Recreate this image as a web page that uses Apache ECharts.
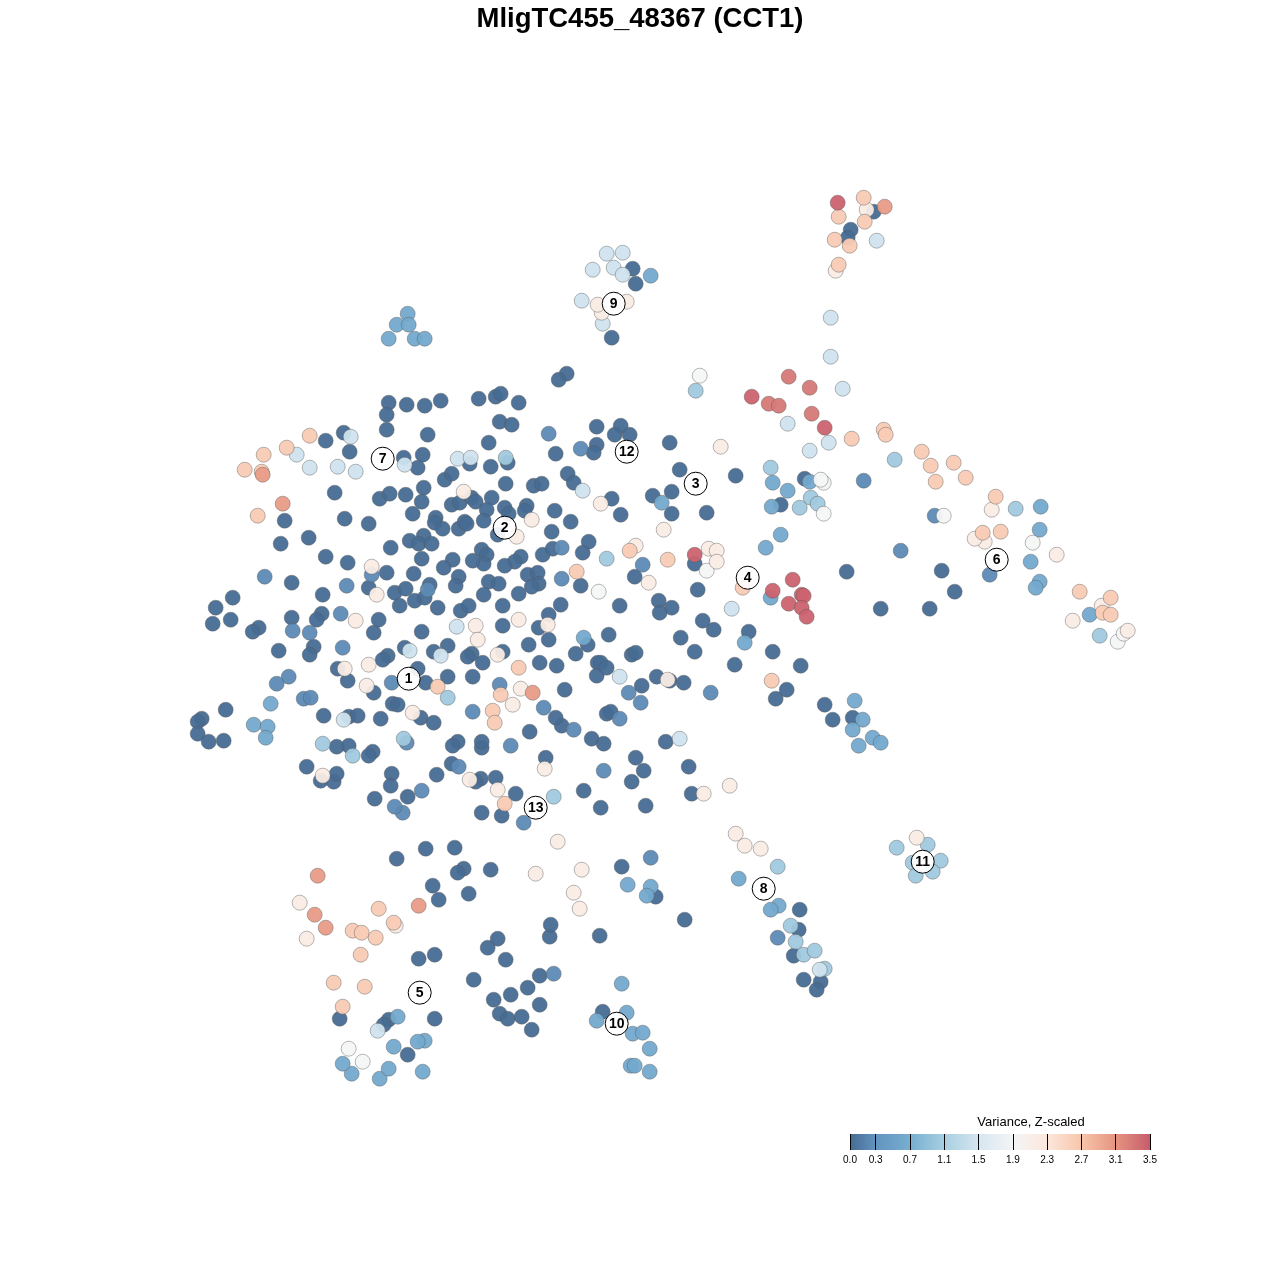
<!DOCTYPE html>
<html><head><meta charset="utf-8">
<style>html,body{margin:0;padding:0;background:#fff}#c{width:1280px;height:1280px}</style>
<script src="https://cdn.jsdelivr.net/npm/echarts@6/dist/echarts.min.js"></script></head>
<body><div id="c"></div>
<script>
const cellsV01 = [[873,211],[850,229],[847,237],[635,283],[632,268],[611,337],[566,373],[558,379],[478,398],[495,396],[500,393],[518,402],[440,400],[424,405],[406,404],[388,402],[386,414],[386,429],[427,434],[499,421],[511,424],[488,442],[620,425],[629,434],[614,434],[596,426],[596,444],[593,452],[669,442],[325,440],[343,432],[349,451],[403,457],[422,454],[417,467],[469,463],[490,466],[507,462],[555,453],[444,479],[451,473],[505,483],[533,485],[541,483],[567,473],[573,482],[379,498],[389,493],[405,494],[423,487],[421,501],[451,504],[459,502],[471,497],[475,501],[491,497],[504,507],[508,513],[486,509],[483,520],[526,505],[524,510],[554,510],[570,521],[412,513],[344,518],[368,523],[435,517],[434,522],[442,528],[458,528],[464,521],[466,523],[497,534],[423,535],[409,540],[418,543],[431,543],[390,547],[551,531],[588,541],[582,552],[542,554],[552,548],[520,556],[514,561],[504,565],[481,549],[486,554],[483,563],[472,560],[452,559],[443,567],[421,558],[347,562],[386,572],[413,573],[458,576],[455,585],[488,581],[498,583],[483,594],[518,593],[527,574],[537,572],[538,583],[531,586],[580,585],[560,604],[548,614],[538,627],[548,639],[528,644],[575,653],[587,644],[539,662],[556,665],[597,662],[596,675],[564,689],[368,587],[394,592],[405,588],[414,600],[424,597],[429,584],[399,605],[437,607],[460,610],[468,605],[502,605],[502,625],[378,619],[373,632],[421,631],[404,647],[447,645],[433,651],[387,655],[382,659],[471,653],[467,656],[482,662],[502,651],[417,668],[347,680],[373,692],[425,682],[447,676],[472,676],[334,492],[284,520],[308,537],[280,543],[325,556],[232,597],[215,607],[212,623],[230,619],[258,627],[252,631],[291,582],[291,617],[322,594],[321,613],[316,619],[278,650],[313,646],[309,654],[337,668],[225,709],[201,718],[197,721],[197,733],[208,741],[223,740],[323,715],[348,716],[357,715],[380,718],[392,703],[397,704],[420,717],[433,722],[348,745],[336,746],[372,751],[368,755],[306,766],[320,780],[333,781],[336,773],[391,773],[390,785],[374,798],[407,796],[436,774],[451,763],[457,741],[452,745],[481,747],[481,741],[480,778],[475,781],[495,777],[515,793],[481,812],[501,815],[529,731],[545,757],[583,790],[600,807],[645,805],[631,781],[643,770],[635,757],[591,738],[603,743],[665,741],[688,766],[691,793],[561,725],[555,717],[600,662],[606,667],[631,654],[635,652],[641,685],[656,676],[669,680],[683,682],[734,664],[694,651],[680,637],[713,629],[702,620],[748,631],[658,600],[671,607],[659,612],[619,605],[634,576],[697,589],[694,563],[706,512],[671,513],[652,495],[671,491],[679,469],[735,475],[611,498],[620,514],[775,698],[786,689],[800,665],[772,651],[824,704],[832,719],[852,717],[804,478],[780,504],[846,571],[880,608],[929,608],[941,570],[954,591],[608,634],[606,713],[610,711],[396,858],[425,848],[454,847],[463,868],[457,872],[490,869],[432,885],[438,899],[468,893],[621,866],[655,896],[549,936],[550,924],[599,935],[497,938],[487,947],[505,959],[434,954],[418,958],[473,979],[527,987],[539,975],[539,1004],[510,994],[493,999],[499,1013],[507,1018],[521,1016],[531,1029],[434,1018],[339,1018],[388,1019],[383,1024],[407,1054],[602,1011],[684,919],[799,909],[798,929],[793,955],[803,979],[820,981],[816,989]];
const cellsV03 = [[264,576],[346,585],[292,630],[309,632],[340,613],[288,676],[276,683],[303,698],[310,697],[342,647],[371,574],[427,589],[561,578],[642,564],[561,547],[580,448],[548,433],[863,480],[900,550],[989,574],[710,692],[640,702],[628,692],[619,718],[543,707],[573,729],[510,745],[458,766],[603,770],[421,790],[402,812],[394,806],[523,822],[472,711],[499,684],[391,682],[650,857],[553,973],[777,937],[934,515],[406,742]];
const cellsV07 = [[407,313],[396,324],[408,324],[388,338],[414,338],[424,338],[650,275],[772,482],[787,490],[809,481],[771,506],[780,534],[765,547],[1040,506],[1039,529],[1030,561],[1039,581],[1035,587],[1089,614],[583,637],[270,703],[253,724],[267,726],[265,737],[738,878],[778,905],[770,909],[627,884],[650,886],[646,895],[621,983],[626,1012],[596,1020],[632,1033],[642,1032],[649,1048],[630,1065],[634,1065],[649,1071],[854,700],[862,719],[852,729],[872,737],[880,742],[858,745],[770,597],[744,642],[661,502],[397,1016],[424,1040],[417,1041],[422,1071],[379,1078],[388,1068],[351,1073],[342,1063],[393,1046]];
const cellsV11 = [[695,390],[770,467],[799,507],[810,497],[817,503],[894,459],[1015,508],[1099,635],[606,558],[505,457],[553,796],[403,738],[447,697],[352,755],[322,743],[777,866],[790,925],[795,941],[803,954],[814,950],[824,968],[896,847],[912,862],[927,844],[940,860],[932,871],[915,875]];
const cellsV15 = [[830,317],[830,356],[842,388],[787,423],[828,442],[809,450],[296,454],[309,467],[337,466],[350,436],[355,471],[404,464],[457,458],[470,457],[606,253],[622,252],[592,269],[613,267],[622,274],[581,300],[602,323],[876,240],[731,608],[409,650],[440,655],[456,626],[619,676],[343,719],[679,738],[582,490],[819,969],[377,1030]];
const cellsV19 = [[823,482],[820,479],[823,513],[943,515],[1032,542],[1117,641],[1123,633],[706,570],[348,1048],[362,1061],[699,375],[598,591]];
const cellsV23 = [[720,446],[663,529],[708,548],[716,550],[716,561],[635,545],[1056,554],[984,541],[991,509],[1072,620],[1101,605],[1127,630],[463,491],[531,519],[516,536],[600,503],[518,619],[547,624],[497,654],[368,664],[344,668],[366,685],[412,712],[475,625],[477,639],[512,704],[520,688],[667,679],[703,793],[729,785],[544,768],[469,779],[322,775],[497,789],[535,873],[581,869],[557,841],[573,892],[579,908],[735,833],[744,845],[760,848],[916,837],[306,938],[299,902],[395,925],[376,594],[371,566],[355,620],[835,270],[866,209],[648,582],[626,301],[601,312],[597,304],[974,538]];
const cellsV27 = [[244,469],[263,454],[261,471],[286,447],[309,435],[257,515],[883,429],[885,434],[851,438],[921,451],[930,465],[953,462],[935,481],[965,477],[995,496],[982,532],[1000,531],[1079,591],[1110,597],[1102,612],[1110,614],[863,197],[838,216],[864,221],[849,245],[834,239],[838,264],[576,571],[629,550],[667,559],[742,587],[518,667],[500,694],[437,686],[492,710],[494,722],[504,803],[771,680],[378,908],[352,930],[361,932],[375,937],[360,954],[393,922],[333,982],[364,986],[342,1006]];
const cellsV31 = [[282,503],[262,474],[532,692],[317,875],[314,914],[325,927],[418,905],[884,206]];
const cellsV33 = [[788,376],[809,387],[768,403],[778,405],[811,413]];
const cellsV35 = [[837,202],[751,396],[824,427],[694,554],[772,590],[792,579],[788,603],[801,594],[803,595],[801,607],[806,616]];
const clusterIds = ["1","2","3","4","5","6","7","8","9","10","11","12","13"];
const clusterX = [408,504,695,747,419,996,382,763,613,616,922,626,535];
const clusterY = [678,527,483,577,992,559,458,888,303,1023,861,451,807];
const legendTicks = [0,0.3,0.7,1.1,1.5,1.9,2.3,2.7,3.1,3.5];
const legendColors = ["#466a92","#6394c0","#77aed0","#a8cfe1","#d6e6f0","#f4f5f6","#fce7dc","#f8c5ab","#e59480","#c75c6c"];
const groupValues = [0.02,0.3,0.7,1.1,1.5,1.95,2.2,2.65,3.05,3.3,3.45];
const groups = [cellsV01,cellsV03,cellsV07,cellsV11,cellsV15,cellsV19,cellsV23,cellsV27,cellsV31,cellsV33,cellsV35];
const points = [];
groups.forEach((list, g) => list.forEach(p => points.push([p[0], p[1], groupValues[g]])));

const chart = echarts.init(document.getElementById('c'), null, {renderer:'canvas'});
const FONT = '"Liberation Sans", Arial, sans-serif';
chart.setOption({
  animation:false,
  backgroundColor:'#fff',
  title:[
    {text:'MligTC455_48367 (CCT1)',left:640,top:5,textAlign:'center',padding:0,textStyle:{fontFamily:FONT,fontWeight:'bold',fontSize:27.5,color:'#000'}},
    {text:'Variance, Z-scaled',left:1031,top:1116,textAlign:'center',padding:0,textStyle:{fontFamily:FONT,fontWeight:'normal',fontSize:13,color:'#000'}}
  ],
  grid:[
    {left:0,right:0,top:0,bottom:0,show:false},
    {left:850,top:1134,width:300,height:16,show:true,borderWidth:0,
     backgroundColor:new echarts.graphic.LinearGradient(0,0,1,0,legendColors.map((c,i)=>({offset:legendTicks[i]/3.5,color:c})))}
  ],
  xAxis:[
    {gridIndex:0,type:'value',min:-0.7,max:1279.3,show:false},
    {gridIndex:1,type:'value',min:0,max:3.5,position:'bottom',
     axisLine:{show:false},splitLine:{show:false},
     axisTick:{show:true,inside:true,length:16,customValues:legendTicks,lineStyle:{color:'#000',width:1}},
     axisLabel:{show:true,customValues:legendTicks,formatter:v=>v.toFixed(1),fontFamily:FONT,fontSize:10,color:'#000',margin:5,hideOverlap:false,showMinLabel:true,showMaxLabel:true}}
  ],
  yAxis:[
    {gridIndex:0,type:'value',min:-0.7,max:1279.3,inverse:true,show:false},
    {gridIndex:1,type:'value',min:0,max:1,show:false}
  ],
  visualMap:{show:false,type:'continuous',seriesIndex:0,dimension:2,min:0,max:3.5,inRange:{color:legendColors}},
  series:[
    {type:'scatter',xAxisIndex:0,yAxisIndex:0,data:points,symbol:'circle',symbolSize:15,
     itemStyle:{opacity:0.95,borderColor:'rgba(90,90,90,0.45)',borderWidth:1},silent:true,z:2},
    {type:'scatter',xAxisIndex:0,yAxisIndex:0,symbol:'circle',symbolSize:23,silent:true,z:5,
     data:clusterIds.map((id,i)=>[clusterX[i],clusterY[i],id]),
     itemStyle:{color:'rgba(255,255,255,0.9)',borderColor:'#000',borderWidth:1,opacity:1},
     label:{show:true,position:'inside',formatter:p=>p.value[2],fontFamily:FONT,fontWeight:'bold',fontSize:14,color:'#000'}}
  ]
});
</script></body></html>
